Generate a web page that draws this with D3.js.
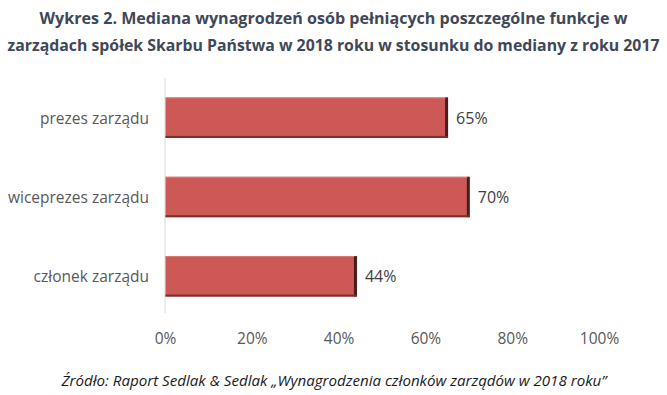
<!DOCTYPE html>
<html>
<head>
<meta charset="utf-8">
<script src="https://cdn.jsdelivr.net/npm/d3@7"></script>
<style>
  body { margin: 0; background: #fff; }
  svg { display: block; font-family: "Open Sans", sans-serif; }
</style>
</head>
<body>
<div id="chart"></div>
<script>
const titleLines = [
    'Wykres 2. Mediana wynagrodzeń osób pełniących poszczególne funkcje w',
    'zarządach spółek Skarbu Państwa w 2018 roku w stosunku do mediany z roku 2017'
];
const categories = ['prezes zarządu', 'wiceprezes zarządu', 'członek zarządu'];
const values = [0.65, 0.70, 0.44];
const ticks = [0, 0.2, 0.4, 0.6, 0.8, 1.0];
const source = 'Źródło: Raport Sedlak & Sedlak „Wynagrodzenia członków zarządów w 2018 roku”';

const W = 667, H = 395;
const svg = d3.select('#chart').append('svg')
    .attr('width', W)
    .attr('height', H);

// title
svg.append('g').selectAll('text')
    .data(titleLines)
    .enter()
    .append('text')
    .attr('x', W / 2)
    .attr('y', (d, i) => 24 + i * 27)
    .attr('text-anchor', 'middle')
    .attr('font-size', '16px')
    .attr('font-weight', 'bold')
    .attr('fill', '#3f4857')
    .attr('textLength', (d, i) => i === 0 ? 588 : 652)
    .attr('lengthAdjust', 'spacingAndGlyphs')
    .text(d => d);

const x = d3.scaleLinear().domain([0, 1]).range([165, 599]);
const y = d3.scaleBand().domain(categories).range([78, 316]).paddingInner(0.49).paddingOuter(0.245);

// axis line
svg.append('line')
    .attr('x1', x(0)).attr('x2', x(0))
    .attr('y1', 78).attr('y2', 313)
    .attr('stroke', '#d9d9d9')
    .attr('stroke-width', 1);

// bars
const bars = svg.append('g').selectAll('g')
    .data(categories)
    .enter()
    .append('g');

bars.append('rect')
    .attr('x', x(0) + 0.5)
    .attr('y', d => y(d))
    .attr('width', (d, i) => x(values[i]) - x(0))
    .attr('height', y.bandwidth())
    .attr('fill', '#cd5957');

// bevel edges
bars.append('rect')
    .attr('x', (d, i) => x(values[i]) - 2)
    .attr('y', d => y(d))
    .attr('width', 3)
    .attr('height', y.bandwidth())
    .attr('fill', '#4a1c1b');
bars.append('rect')
    .attr('x', x(0) + 0.5)
    .attr('y', d => y(d) + y.bandwidth() - 2)
    .attr('width', (d, i) => x(values[i]) - x(0))
    .attr('height', 2)
    .attr('fill', '#7a2f2d');
bars.append('rect')
    .attr('x', x(0) + 0.5)
    .attr('y', d => y(d))
    .attr('width', (d, i) => x(values[i]) - x(0) - 2)
    .attr('height', 1)
    .attr('fill', '#d97a77');

// value labels
bars.append('text')
    .attr('x', (d, i) => x(values[i]) + 9)
    .attr('y', d => y(d) + y.bandwidth() / 2)
    .attr('dominant-baseline', 'central')
    .attr('font-size', '16px')
    .attr('fill', '#404040')
    .text((d, i) => Math.round(values[i] * 100) + '%');

// category labels
svg.append('g').selectAll('text')
    .data(categories)
    .enter()
    .append('text')
    .attr('x', 149)
    .attr('y', d => y(d) + y.bandwidth() / 2)
    .attr('text-anchor', 'end')
    .attr('dominant-baseline', 'central')
    .attr('font-size', '15.5px')
    .attr('fill', '#595959')
    .text(d => d);

// x axis ticks
const xAxis = svg.append('g')
    .attr('transform', 'translate(0,339)')
    .call(d3.axisBottom(x).tickValues(ticks).tickFormat(d3.format('.0%')).tickSize(0).tickPadding(0));
xAxis.select('.domain').remove();
xAxis.selectAll('text')
    .attr('dy', '0.35em')
    .attr('font-family', '"Open Sans", sans-serif')
    .attr('font-size', '15.5px')
    .attr('fill', '#595959');

// source
svg.append('text')
    .attr('x', 334)
    .attr('y', 386)
    .attr('text-anchor', 'middle')
    .attr('font-size', '14.5px')
    .attr('font-style', 'italic')
    .attr('fill', '#1a1a1a')
    .attr('textLength', 545)
    .attr('lengthAdjust', 'spacingAndGlyphs')
    .text(source);
</script>
</body>
</html>
